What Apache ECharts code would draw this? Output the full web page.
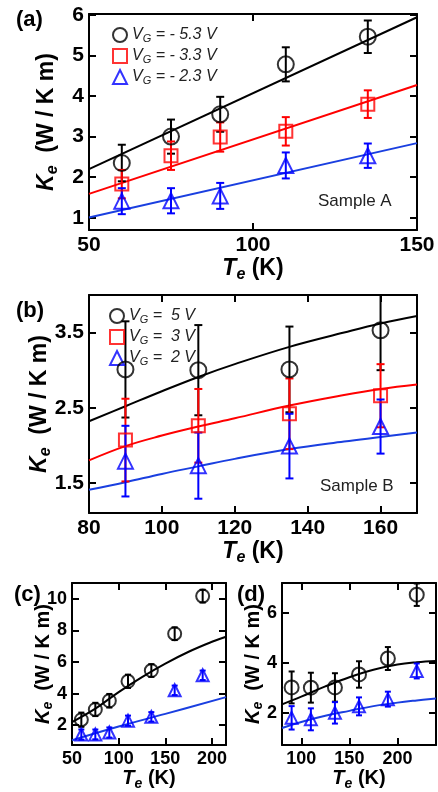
<!DOCTYPE html>
<html>
<head>
<meta charset="utf-8">
<script src="https://cdn.jsdelivr.net/npm/echarts@6/dist/echarts.min.js"></script>
<style>
html, body { margin: 0; padding: 0; background: #fff; }
#chart { width: 438px; height: 792px; }
</style>
</head>
<body>
<div id="chart"></div>
<script>
// panel (a), sample A
const tA = [60, 75, 90, 110, 135];
const kA_53 = [2.35, 3.0, 3.55, 4.78, 5.46];
const eA_53 = [0.45, 0.42, 0.43, 0.42, 0.4];
const kA_33 = [1.83, 2.53, 2.99, 3.13, 3.8];
const eA_33 = [0.35, 0.35, 0.36, 0.35, 0.34];
const kA_23 = [1.41, 1.42, 1.54, 2.29, 2.53];
const eA_23 = [0.32, 0.31, 0.32, 0.32, 0.3];
const fitA_T = [50, 150];
const fitA_53 = [2.2, 5.94];
const fitA_33 = [1.59, 4.27];
const fitA_23 = [1.01, 2.84];

// panel (b), sample B
const tB = [90, 110, 135, 160];
const kB_5 = [3.01, 3.0, 3.01, 3.53];
const eB_5 = [0.64, 0.6, 0.57, 0.53];
const kB_3 = [2.07, 2.26, 2.42, 2.66];
const eB_3 = [0.55, 0.49, 0.47, 0.42];
const kB_2 = [1.79, 1.73, 1.99, 2.25];
const eB_2 = [0.47, 0.44, 0.43, 0.36];
const fitB_T = [80, 90, 100, 110, 120, 135, 150, 160, 170];
const fitB_5 = [2.32, 2.52, 2.72, 2.91, 3.08, 3.31, 3.5, 3.62, 3.72];
const fitB_3 = [1.8, 1.99, 2.13, 2.25, 2.36, 2.53, 2.67, 2.75, 2.81];
const fitB_2 = [1.41, 1.51, 1.62, 1.72, 1.82, 1.95, 2.05, 2.11, 2.17];

// panel (c), sample A extended
const tC = [60, 75, 90, 110, 135, 160, 190];
const kC_hi = [2.35, 3.0, 3.55, 4.78, 5.46, 7.79, 10.17];
const eC_hi = [0.45, 0.42, 0.43, 0.42, 0.4, 0.4, 0.4];
const kC_lo = [1.41, 1.42, 1.54, 2.29, 2.53, 4.21, 5.16];
const eC_lo = [0.32, 0.31, 0.32, 0.32, 0.3, 0.3, 0.3];
const fitC_T = [50, 75, 100, 125, 150, 175, 200, 215];
const fitC_hi = [2.2, 3.05, 4.1, 5.05, 5.9, 6.65, 7.28, 7.6];
const fitC_loT = [50, 100, 150, 215];
const fitC_lo = [1.05, 1.92, 2.72, 3.78];

// panel (d), sample B extended
const tD = [90, 110, 135, 160, 190, 220];
const kD_hi = [3.01, 3.0, 3.01, 3.53, 4.17, 6.73];
const eD_hi = [0.64, 0.6, 0.57, 0.53, 0.46, 0.45];
const kD_lo = [1.79, 1.73, 1.99, 2.25, 2.54, 3.67];
const eD_lo = [0.47, 0.44, 0.43, 0.36, 0.3, 0.3];
const fitD_T = [80, 100, 125, 150, 175, 200, 220, 240];
const fitD_hi = [2.33, 2.64, 3.05, 3.42, 3.72, 3.93, 4.02, 4.07];
const fitD_lo = [1.38, 1.62, 1.87, 2.07, 2.26, 2.4, 2.49, 2.57];

const legA = ['VG = - 5.3 V', 'VG = - 3.3 V', 'VG = - 2.3 V'];
const legB = ['VG =  5 V', 'VG =  3 V', 'VG =  2 V'];

const FONT = 'Liberation Sans, Arial, sans-serif';
const BLACK = '#000000', RED = '#ff0000', BLUE = '#0000ff', BLUE_LINE = '#1a3fe0';

function pairs(t, k) { return t.map((x, i) => [x, k[i]]); }
function bars(t, k, e) { return t.map((x, i) => [x, k[i] - e[i], k[i] + e[i]]); }

function nameRich(f) {
  return {
    i: { fontFamily: FONT, fontStyle: 'italic', fontWeight: 'bold', fontSize: f, color: '#000' },
    s: { fontFamily: FONT, fontStyle: 'italic', fontWeight: 'bold', fontSize: Math.round(f * 0.68), color: '#000', padding: [Math.round(f * 0.5), 0, 0, 0] },
    n: { fontFamily: FONT, fontWeight: 'bold', fontSize: f, color: '#000' }
  };
}

function axisBase(gi, min, max, ticks) {
  return {
    type: 'value', gridIndex: gi, min: min, max: max,
    splitLine: { show: false },
    axisLine: { onZero: false, lineStyle: { color: '#000', width: 2 } },
    axisTick: { inside: true, length: 7, customValues: ticks, lineStyle: { color: '#000', width: 2 } }
  };
}

function makeX(gi, min, max, ticks, fs, nf, gap) {
  const main = axisBase(gi, min, max, ticks);
  main.position = 'bottom';
  main.axisLabel = { customValues: ticks, fontFamily: FONT, fontWeight: 'bold', fontSize: fs, color: '#000', margin: 5 };
  main.name = '{i|T}{s|e}{n| (K)}';
  main.nameLocation = 'middle';
  main.nameGap = gap;
  main.nameTextStyle = { rich: nameRich(nf) };
  const mirror = axisBase(gi, min, max, ticks);
  mirror.position = 'top';
  mirror.axisLabel = { show: false };
  return [main, mirror];
}

function makeY(gi, min, max, ticks, fs, nf, gap, fmt) {
  const main = axisBase(gi, min, max, ticks);
  main.position = 'left';
  main.axisLabel = { customValues: ticks, fontFamily: FONT, fontWeight: 'bold', fontSize: fs, color: '#000', margin: 5, formatter: fmt };
  main.name = '{i|K}{s|e}{n|  (W / K m)}';
  main.nameLocation = 'middle';
  main.nameRotate = 90;
  main.nameGap = gap;
  main.nameMoveOverlap = false;
  main.nameTextStyle = { rich: nameRich(nf) };
  const mirror = axisBase(gi, min, max, ticks);
  mirror.position = 'right';
  mirror.axisLabel = { show: false };
  return [main, mirror];
}

function scatter(name, p, data, symbol, size, color) {
  return {
    type: 'scatter', name: name, xAxisIndex: 2 * p, yAxisIndex: 2 * p, data: data,
    symbol: symbol, symbolSize: size, z: 4,
    itemStyle: { color: 'rgba(255,255,255,0)', borderColor: color, borderWidth: 2 },
    emphasis: { disabled: true }
  };
}

function errbar(p, data, color, cap) {
  return {
    type: 'custom', xAxisIndex: 2 * p, yAxisIndex: 2 * p, data: data, clip: true, z: 3, silent: true,
    renderItem: function (params, api) {
      const x = api.value(0);
      const lo = api.coord([x, api.value(1)]);
      const hi = api.coord([x, api.value(2)]);
      const st = { stroke: color, lineWidth: 2 };
      return {
        type: 'group', children: [
          { type: 'line', shape: { x1: lo[0], y1: lo[1], x2: hi[0], y2: hi[1] }, style: st },
          { type: 'line', shape: { x1: hi[0] - cap, y1: hi[1], x2: hi[0] + cap, y2: hi[1] }, style: st },
          { type: 'line', shape: { x1: lo[0] - cap, y1: lo[1], x2: lo[0] + cap, y2: lo[1] }, style: st }
        ]
      };
    }
  };
}

function fit(p, data, color) {
  return {
    type: 'line', xAxisIndex: 2 * p, yAxisIndex: 2 * p, data: data, smooth: 0.4,
    symbol: 'none', showSymbol: false, silent: true, z: 2,
    lineStyle: { color: color, width: 2 }
  };
}

const legendRich = {
  v: { fontFamily: FONT, fontStyle: 'italic', fontSize: 16, color: '#222', lineHeight: 16 },
  g: { fontFamily: FONT, fontStyle: 'italic', fontSize: 11, color: '#222', lineHeight: 11, padding: [7, 0, 0, 0] },
  t: { fontFamily: FONT, fontStyle: 'italic', fontSize: 16, color: '#222', lineHeight: 16 }
};
function legendFmt(name) { return '{v|V}{g|G}{t|' + name.slice(2) + '}'; }

const xs = [].concat(
  makeX(0, 50, 150, [50, 100, 150], 21, 23, 24),
  makeX(1, 80, 170, [80, 100, 120, 140, 160], 21, 23, 24),
  makeX(2, 50, 215, [50, 100, 150, 200], 18, 20, 20),
  makeX(3, 80, 240, [100, 150, 200], 18, 20, 20)
);
const ys = [].concat(
  makeY(0, 0.7, 6.02, [1, 2, 3, 4, 5, 6], 21, 23, 28),
  makeY(1, 1.1, 4.0, [1.5, 2.5, 3.5], 21, 23, 35, v => v.toFixed(1)),
  makeY(2, 0.75, 11, [2, 4, 6, 8, 10], 18, 20, 17),
  makeY(3, 0.7, 7.2, [2, 4, 6], 18, 20, 17)
);

const chart = echarts.init(document.getElementById('chart'));
chart.setOption({
  animation: false,
  backgroundColor: '#fff',
  grid: [
    { left: 89, top: 14, width: 328, height: 216 },
    { left: 89, top: 295, width: 328, height: 218 },
    { left: 72, top: 583, width: 154, height: 162 },
    { left: 282, top: 583, width: 154, height: 162 }
  ],
  xAxis: xs,
  yAxis: ys,
  legend: [
    { data: legA, left: 107, top: 21, orient: 'vertical', itemGap: 3, itemWidth: 14, itemHeight: 14,
      selectedMode: false, formatter: legendFmt, textStyle: { rich: legendRich } },
    { data: legB, left: 104, top: 302, orient: 'vertical', itemGap: 3, itemWidth: 14, itemHeight: 14,
      selectedMode: false, formatter: legendFmt, textStyle: { rich: legendRich } }
  ],
  graphic: [
    { type: 'text', left: 16, top: 9, style: { text: '(a)', font: 'bold 22px ' + FONT, fill: '#000' } },
    { type: 'text', left: 16, top: 300, style: { text: '(b)', font: 'bold 22px ' + FONT, fill: '#000' } },
    { type: 'text', left: 14, top: 584, style: { text: '(c)', font: 'bold 22px ' + FONT, fill: '#000' } },
    { type: 'text', left: 237, top: 584, style: { text: '(d)', font: 'bold 22px ' + FONT, fill: '#000' } },
    { type: 'text', left: 318, top: 193, style: { text: 'Sample A', font: '17px ' + FONT, fill: '#222' } },
    { type: 'text', left: 320, top: 478, style: { text: 'Sample B', font: '17px ' + FONT, fill: '#222' } }
  ],
  series: [
    fit(0, pairs(fitA_T, fitA_53), BLACK),
    fit(0, pairs(fitA_T, fitA_33), RED),
    fit(0, pairs(fitA_T, fitA_23), BLUE_LINE),
    errbar(0, bars(tA, kA_53, eA_53), BLACK, 4),
    errbar(0, bars(tA, kA_33, eA_33), RED, 4),
    errbar(0, bars(tA, kA_23, eA_23), BLUE, 4),
    scatter(legA[0], 0, pairs(tA, kA_53), 'circle', 16, BLACK),
    scatter(legA[1], 0, pairs(tA, kA_33), 'rect', 13, RED),
    scatter(legA[2], 0, pairs(tA, kA_23), 'triangle', 15, BLUE),

    fit(1, pairs(fitB_T, fitB_5), BLACK),
    fit(1, pairs(fitB_T, fitB_3), RED),
    fit(1, pairs(fitB_T, fitB_2), BLUE_LINE),
    errbar(1, bars(tB, kB_5, eB_5), BLACK, 4),
    errbar(1, bars(tB, kB_3, eB_3), RED, 4),
    errbar(1, bars(tB, kB_2, eB_2), BLUE, 4),
    scatter(legB[0], 1, pairs(tB, kB_5), 'circle', 16, BLACK),
    scatter(legB[1], 1, pairs(tB, kB_3), 'rect', 13, RED),
    scatter(legB[2], 1, pairs(tB, kB_2), 'triangle', 15, BLUE),

    fit(2, pairs(fitC_T, fitC_hi), BLACK),
    fit(2, pairs(fitC_loT, fitC_lo), BLUE_LINE),
    errbar(2, bars(tC, kC_hi, eC_hi), BLACK, 3),
    errbar(2, bars(tC, kC_lo, eC_lo), BLUE, 3),
    scatter('c -5.3 V', 2, pairs(tC, kC_hi), 'circle', 13, BLACK),
    scatter('c -2.3 V', 2, pairs(tC, kC_lo), 'triangle', 12, BLUE),

    fit(3, pairs(fitD_T, fitD_hi), BLACK),
    fit(3, pairs(fitD_T, fitD_lo), BLUE_LINE),
    errbar(3, bars(tD, kD_hi, eD_hi), BLACK, 3),
    errbar(3, bars(tD, kD_lo, eD_lo), BLUE, 3),
    scatter('d 5 V', 3, pairs(tD, kD_hi), 'circle', 14, BLACK),
    scatter('d 2 V', 3, pairs(tD, kD_lo), 'triangle', 12, BLUE)
  ]
});
</script>
</body>
</html>
